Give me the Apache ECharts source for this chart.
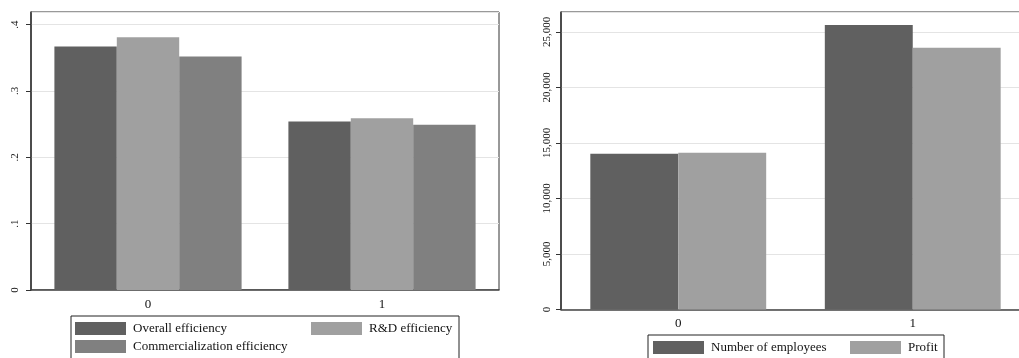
<!DOCTYPE html>
<html>
<head>
<meta charset="utf-8">
<script src="https://cdn.jsdelivr.net/npm/echarts@6/dist/echarts.min.js"></script>
<style>
  html, body { margin: 0; padding: 0; background: #fff; overflow: hidden; }
  /* the right panel's plot region runs a little past the right edge of the page */
  #chart { width: 1030px; height: 358px; }
</style>
</head>
<body>
<div id="chart"></div>
<script>
// Group categories (shared by both panels)
const categories = ['0', '1'];

// Left panel: efficiency scores
const overallEfficiency = [0.367, 0.254];
const rdEfficiency = [0.381, 0.259];
const commercializationEfficiency = [0.352, 0.249];
const leftTicks = [0, 0.1, 0.2, 0.3, 0.4];
const leftTickLabels = ['0', '.1', '.2', '.3', '.4'];

// Right panel: firm size and profit
const employees = [14030, 25630];
const profit = [14120, 23590];
const rightTicks = [0, 5000, 10000, 15000, 20000, 25000];
const rightTickLabels = ['0', '5,000', '10,000', '15,000', '20,000', '25,000'];

const FONT = "'Liberation Serif', 'Times New Roman', serif";
const DARK = '#606060', LIGHT = '#a0a0a0', MID = '#808080';

function tickFormatter(ticks, labels) {
  return function (v) {
    for (let i = 0; i < ticks.length; i++) {
      if (Math.abs(v - ticks[i]) < 1e-9 * Math.max(1, Math.abs(ticks[i]))) return labels[i];
    }
    return '';
  };
}

function yAxis(gridIndex, max, interval, ticks, labels, margin) {
  return {
    type: 'value', gridIndex, min: 0, max, interval,
    axisLine: { show: true, lineStyle: { color: '#333', width: 1.5 } },
    axisTick: { show: true, length: 5, lineStyle: { color: '#333' } },
    axisLabel: {
      rotate: 90, margin, fontSize: 11, color: '#111', fontFamily: FONT,
      formatter: tickFormatter(ticks, labels), showMaxLabel: false
    },
    splitLine: { show: true, lineStyle: { color: '#e4e4e4', width: 1 } }
  };
}

function xAxis(gridIndex) {
  return {
    type: 'category', gridIndex, data: categories,
    axisLine: { show: true, lineStyle: { color: '#444', width: 1.5 } },
    axisTick: { show: false },
    axisLabel: { fontSize: 13, color: '#111', fontFamily: FONT, margin: 8 }
  };
}

function legendItem(name, left, top) {
  return {
    data: [name], left, top, orient: 'horizontal', padding: 0,
    icon: 'rect', itemWidth: 51, itemHeight: 13, itemGap: 0,
    selectedMode: false,
    textStyle: { fontSize: 13, color: '#111', fontFamily: FONT, padding: [0, 0, 0, 2] }
  };
}

const chart = echarts.init(document.getElementById('chart'), null, { renderer: 'canvas' });

chart.setOption({
  animation: false,
  backgroundColor: '#fff',
  grid: [
    { left: 31, top: 12, right: 531, bottom: 68, show: true, borderColor: '#333', borderWidth: 1, containLabel: false },
    { left: 561, top: 12, right: 0, bottom: 48.5, show: true, borderColor: '#333', borderWidth: 1, containLabel: false }
  ],
  xAxis: [xAxis(0), xAxis(1)],
  yAxis: [
    yAxis(0, 0.419, 0.1, leftTicks, leftTickLabels, 10),
    yAxis(1, 26800, 5000, rightTicks, rightTickLabels, 8)
  ],
  legend: [
    legendItem('Overall efficiency', 75, 322),
    legendItem('R&D efficiency', 311, 322),
    legendItem('Commercialization efficiency', 75, 340),
    legendItem('Number of employees', 653, 341),
    legendItem('Profit', 850, 341)
  ],
  graphic: [
    { type: 'rect', shape: { x: 71, y: 316, width: 388, height: 60 }, style: { fill: 'none', stroke: '#222', lineWidth: 1 } },
    { type: 'rect', shape: { x: 648, y: 335, width: 296, height: 40 }, style: { fill: 'none', stroke: '#222', lineWidth: 1 } }
  ],
  series: [
    { name: 'Overall efficiency', type: 'bar', xAxisIndex: 0, yAxisIndex: 0, data: overallEfficiency,
      itemStyle: { color: DARK }, barGap: '0%', barCategoryGap: '20%' },
    { name: 'R&D efficiency', type: 'bar', xAxisIndex: 0, yAxisIndex: 0, data: rdEfficiency,
      itemStyle: { color: LIGHT }, barGap: '0%', barCategoryGap: '20%' },
    { name: 'Commercialization efficiency', type: 'bar', xAxisIndex: 0, yAxisIndex: 0, data: commercializationEfficiency,
      itemStyle: { color: MID }, barGap: '0%', barCategoryGap: '20%' },
    { name: 'Number of employees', type: 'bar', xAxisIndex: 1, yAxisIndex: 1, data: employees,
      itemStyle: { color: DARK }, barGap: '0%', barCategoryGap: '25%' },
    { name: 'Profit', type: 'bar', xAxisIndex: 1, yAxisIndex: 1, data: profit,
      itemStyle: { color: LIGHT }, barGap: '0%', barCategoryGap: '25%' }
  ]
});
</script>
</body>
</html>
